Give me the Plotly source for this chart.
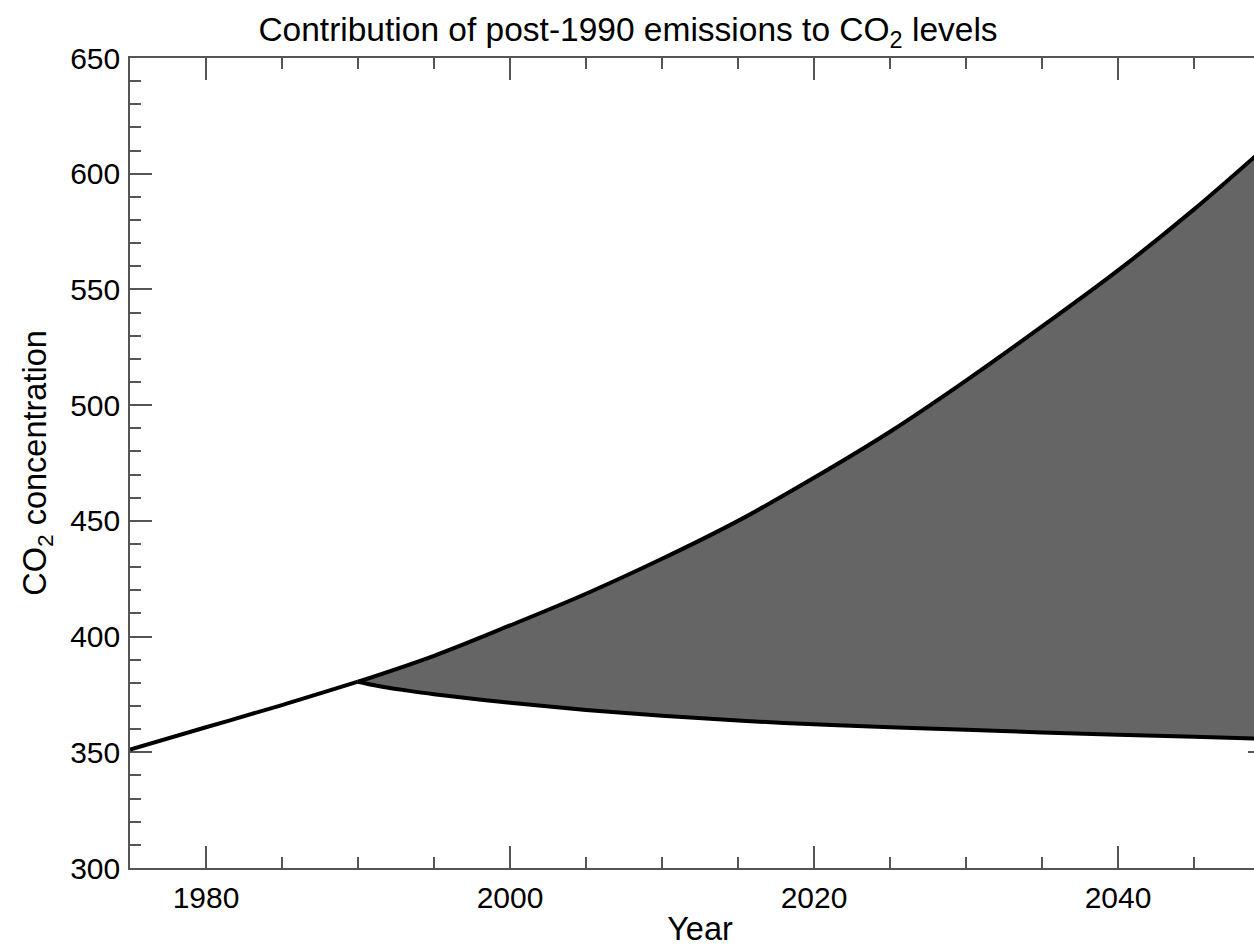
import plotly.graph_objects as go

# ---- data ----
hist_years = [1975, 1980, 1985, 1990]
hist_co2 = [351.2, 360.8, 370.4, 380.5]

# total CO2 including post-1990 emissions (upper curve)
upper_years = [1990, 1995, 2000, 2005, 2010, 2015, 2020, 2025, 2030, 2035, 2040, 2045, 2050]
with_post1990 = [380.5, 391.7, 404.8, 418.5, 433.6, 450.0, 468.6, 488.5, 510.6, 534.0, 558.2, 584.6, 613.2]

# CO2 without post-1990 emissions (lower curve)
lower_years = [1990, 1991, 1992, 1993, 1995, 2000, 2005, 2010, 2015, 2020,
               2025, 2030, 2035, 2040, 2045, 2050]
without_post1990 = [380.5, 379.1, 377.9, 376.9, 375.1, 371.4, 368.3, 365.8, 363.7, 362.1,
                    360.8, 359.7, 358.6, 357.6, 356.7, 355.7]

x_tickvals = [1980, 2000, 2020, 2040]
y_tickvals = [300, 350, 400, 450, 500, 550, 600, 650]

FONT = "Liberation Sans, Arial, Helvetica, sans-serif"
AXIS_COL = "#555555"
FILL_COL = "#656565"
LINE_W = 4

fig = go.Figure()

fig.add_trace(go.Scatter(
    x=lower_years, y=without_post1990, mode="lines",
    line=dict(color="black", width=LINE_W, shape="spline", smoothing=1.0),
    showlegend=False, hoverinfo="skip"))
fig.add_trace(go.Scatter(
    x=upper_years, y=with_post1990, mode="lines", fill="tonexty", fillcolor=FILL_COL,
    line=dict(color="black", width=LINE_W, shape="spline", smoothing=1.0),
    showlegend=False, hoverinfo="skip"))
fig.add_trace(go.Scatter(
    x=hist_years, y=hist_co2, mode="lines",
    line=dict(color="black", width=LINE_W, shape="spline", smoothing=1.0),
    showlegend=False, hoverinfo="skip"))

W, H = 1290, 947
fig.update_layout(
    template="none",
    width=W, height=H,
    margin=dict(l=130, r=20, t=58, b=79, autoexpand=False),
    paper_bgcolor="white", plot_bgcolor="white",
    font=dict(family=FONT, size=30, color="black"),
    title=dict(text="Contribution of post-1990 emissions to CO<sub>2</sub> levels",
               x=628 / W, xref="container", xanchor="center",
               y=1 - 29 / H, yref="container", yanchor="middle",
               font=dict(family=FONT, size=33.5, color="black")),
)

fig.update_xaxes(
    range=[1975, 2050], tickmode="array", tickvals=x_tickvals,
    ticks="inside", ticklen=22, tickwidth=1.5, tickcolor=AXIS_COL,
    minor=dict(dtick=5, tick0=1975, ticks="inside", ticklen=11, tickwidth=1.5, tickcolor=AXIS_COL),
    showline=True, linecolor=AXIS_COL, linewidth=1.5, mirror="allticks",
    showgrid=False, zeroline=False, ticklabelstandoff=2, automargin=False,
    tickfont=dict(size=30, family=FONT, color="black"),
    title=dict(text="Year", font=dict(size=32.5, family=FONT, color="black"), standoff=10),
    layer="below traces",
)
fig.update_yaxes(
    range=[300, 650], tickmode="array", tickvals=y_tickvals,
    ticks="inside", ticklen=22, tickwidth=1.5, tickcolor=AXIS_COL,
    minor=dict(dtick=10, tick0=300, ticks="inside", ticklen=11, tickwidth=1.5, tickcolor=AXIS_COL),
    showline=True, linecolor=AXIS_COL, linewidth=1.5, mirror="allticks",
    showgrid=False, zeroline=False, ticklabelstandoff=2, automargin=False,
    tickfont=dict(size=30, family=FONT, color="black"),
    title=dict(text="CO<sub>2</sub> concentration", font=dict(size=32.5, family=FONT, color="black"), standoff=14),
    layer="below traces",
)

fig.write_html("out.html")
